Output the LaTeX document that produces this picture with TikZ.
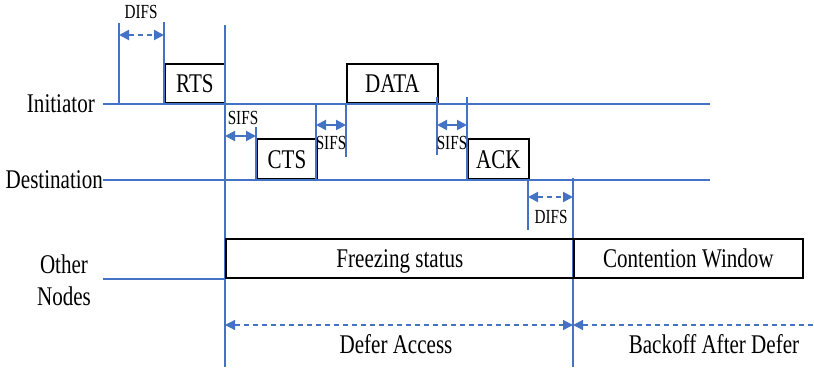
\documentclass[tikz,border=0pt]{standalone}
\usepackage{fontspec}
\setmainfont{Liberation Serif}
\usepackage{graphicx}
\usetikzlibrary{arrows.meta}
\definecolor{lineblue}{RGB}{68,114,196}
\newcommand\sqz[1]{\scalebox{0.78}[1]{#1}}
\newcommand\sqs[1]{\scalebox{0.76}[1]{#1}}
\tikzset{
  bl/.style={draw=lineblue, line width=2pt},
  box/.style={draw=black, line width=1.8pt, anchor=south west, inner sep=0pt,
    text height=18pt, text depth=0pt, font=\fontsize{27}{30}\selectfont},
  lab/.style={inner sep=0pt, font=\fontsize{27}{32}\selectfont},
  small/.style={inner sep=0pt, font=\fontsize{20}{22}\selectfont},
  mid/.style={inner sep=0pt, font=\fontsize{27}{30}\selectfont},
  both/.style={bl, {Triangle[length=10pt,width=10pt]}-{Triangle[length=10pt,width=10pt]}},
  dsh/.style={dash pattern=on 5pt off 4pt},
}
\begin{document}
\begin{tikzpicture}[x=1pt,y=-1pt]
\useasboundingbox (0,0) rectangle (814,367);
% labels
\node[lab, anchor=east] (init) at (95,104) {\sqz{Initiator}};
\node[lab, anchor=east] (dest) at (103,180) {\sqz{Destination}};
\node[lab, align=center] (other) at (64,280) {\sqz{Other}\\\sqz{Nodes}};
% end coordinates of timelines
\coordinate (initS) at (103,104);
\coordinate (initE) at (710,104);
\coordinate (destS) at (103,180);
\coordinate (destE) at (710,180);
\coordinate (othS) at (103,279);
% upper boxes
\node[box, minimum width=60pt, minimum height=39pt] (rts) at (164,104) {\sqz{RTS}};
\node[box, minimum width=60pt, minimum height=40pt] (cts) at (256,180) {\sqz{CTS}};
\node[box, minimum width=91pt, minimum height=39pt] (data) at (346,104) {\sqz{DATA}};
\node[box, minimum width=61pt, minimum height=40pt] (ack) at (467,180) {\sqz{ACK}};
% timelines
\draw[bl] (initS) -- (initE);
\draw[bl] (destS) -- (destE);
% vertical markers
\coordinate (v1t) at (119,23);  \coordinate (v1b) at (119,104);
\coordinate (v2t) at (164,22);  \coordinate (v2b) at (164,104);
\coordinate (v3t) at (225,25);  \coordinate (v3b) at (225,367);
\coordinate (v4t) at (256,127); \coordinate (v4b) at (256,180);
\coordinate (v5t) at (316,104); \coordinate (v5b) at (316,180);
\coordinate (v6t) at (346,104); \coordinate (v6b) at (346,157);
\coordinate (v7t) at (437,97);  \coordinate (v7b) at (437,155);
\coordinate (v8t) at (467,97);  \coordinate (v8b) at (467,180);
\coordinate (v9t) at (528,180); \coordinate (v9b) at (528,230);
\coordinate (v10t) at (573,178); \coordinate (v10b) at (573,367);
\foreach \i in {1,...,10} \draw[bl] (v\i t) -- (v\i b);
% lower boxes
\node[box, minimum width=348pt, minimum height=39pt] (freeze) at (225,279) {\sqz{Freezing status}};
\node[box, minimum width=229pt, minimum height=39pt] (cw) at (573,279) {\sqz{Contention Window}};
\draw[bl] (othS) -- (freeze.south west);
% interval arrows
\coordinate (a1l) at (119,35);  \coordinate (a1r) at (164,35);
\coordinate (a2l) at (225,136); \coordinate (a2r) at (256,136);
\coordinate (a3l) at (316,125); \coordinate (a3r) at (346,125);
\coordinate (a4l) at (437,125); \coordinate (a4r) at (467,125);
\coordinate (a5l) at (528,197); \coordinate (a5r) at (573,197);
\coordinate (a6l) at (225,325); \coordinate (a6r) at (573,325);
\coordinate (a7l) at (573,325); \coordinate (a7r) at (814,325);
\draw[both, dsh] (a1l) -- (a1r);
\draw[both] (a2l) -- (a2r);
\draw[both] (a3l) -- (a3r);
\draw[both] (a4l) -- (a4r);
\draw[both, dsh] (a5l) -- (a5r);
\draw[both, dsh, line width=1.3pt] (a6l) -- (a6r);
\draw[bl, dsh, line width=1.3pt, {Triangle[length=10pt,width=10pt]}-] (a7l) -- (a7r);
% interval labels
\node[small] (difs1) at (141,12) {\sqs{DIFS}};
\node[small] (sifs1) at (243,118) {\sqs{SIFS}};
\node[small] (sifs2) at (331,143) {\sqs{SIFS}};
\node[small] (sifs3) at (452,143) {\sqs{SIFS}};
\node[small] (difs2) at (551,217) {\sqs{DIFS}};
\node[mid] (defer) at (396,344) {\sqz{Defer Access}};
\node[mid] (backoff) at (714,344) {\sqz{Backoff After Defer}};
\end{tikzpicture}
\end{document}
